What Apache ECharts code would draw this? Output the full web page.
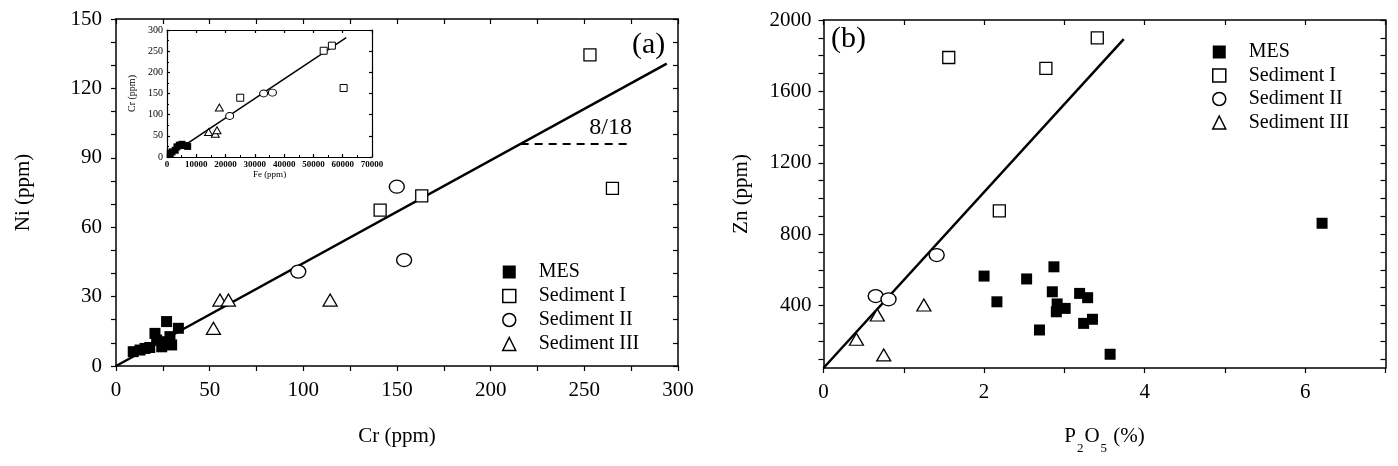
<!DOCTYPE html>
<html>
<head>
<meta charset="utf-8">
<script src="https://cdn.jsdelivr.net/npm/echarts@6/dist/echarts.min.js"></script>
<style>
  html, body { margin: 0; padding: 0; background: #fff; }
  #main { width: 1398px; height: 466px; }
</style>
</head>
<body>
<div id="main"></div>
<script>
// panel (a): Ni vs Cr
const mesA = [[9.2, 6.2], [12.8, 6.9], [15.5, 7.6], [18, 8], [20.8, 14.1], [21.7, 11.2], [24.4, 8.3],
  [25.5, 10.5], [27, 19.2], [28.8, 12.7], [29.7, 9.1], [33.3, 16.3]]
const sed1A = [[141, 67.4], [163.2, 73.5], [253, 134.5], [265, 76.8]]
const sed2A = [[97.3, 40.8], [149.9, 77.5], [153.8, 45.8]]
const sed3A = [[52, 16.3], [55.5, 28.5], [60, 28.5], [114.3, 28.5]]
const fitA = [[0, 0], [294, 130.7]]
const refA = [[216, 96], [274, 96]]

// inset: Cr vs Fe
const mesFe = [[1100, 8], [1700, 12], [2800, 16], [3400, 24], [4200, 28], [5100, 30], [6000, 27], [7060, 25]]
const sed1Fe = [[25000, 140], [53500, 251], [56300, 263], [60300, 163]]
const sed2Fe = [[21400, 97], [33000, 150], [36000, 152]]
const sed3Fe = [[14200, 59], [16500, 55], [17070, 63], [17870, 117]]
const fitFe = [[2000, 9], [61200, 282]]

// panel (b): Zn vs P2O5
const mesB = [[2.0, 565], [2.16, 421], [2.53, 549], [2.87, 617], [2.85, 477], [2.91, 409], [2.9, 365],
  [3.01, 384], [2.69, 263], [3.19, 468], [3.29, 444], [3.24, 300], [3.35, 323], [3.57, 127], [6.21, 861]]
const sed1B = [[1.56, 1790], [2.19, 931], [2.77, 1729], [3.41, 1900]]
const sed2B = [[0.65, 453], [0.81, 435], [1.41, 683]]
const sed3B = [[0.41, 211], [0.67, 347], [0.75, 123], [1.25, 403]]
const fitB = [[0, 50], [3.74, 1893]]

const yLabelsB = [400, 800, 1200, 1600, 2000]
const yTicksB = [100, 200, 300, 400, 500, 600, 700, 800, 900, 1000, 1100, 1200, 1300, 1400, 1500,
  1600, 1700, 1800, 1900, 2000]

const font = 'Liberation Serif'

const chart = echarts.init(document.getElementById('main'), null, { renderer: 'canvas' })

const plain = v => String(v)
const line = { show: true, onZero: false, lineStyle: { color: '#000', width: 1.2 } }
const tick = (inside, len) => ({ show: true, inside: inside, length: len, lineStyle: { color: '#000', width: 1.2 } })
const label = (size, margin) => ({ color: '#000', fontFamily: font, fontSize: size, margin: margin, formatter: plain })

function ax(opts) {
  return Object.assign({
    type: 'value',
    axisLine: { show: true, onZero: false, lineStyle: { color: '#000', width: 1.5 } },
    splitLine: { show: false },
    axisLabel: { show: false },
    axisTick: tick(true, 5),
    nameTextStyle: { color: '#000', fontFamily: font, fontSize: 21 },
    nameLocation: 'middle'
  }, opts)
}

const empty = { color: '#fff', borderColor: '#000', borderWidth: 1.3, opacity: 1 }
const filled = { color: '#000', opacity: 1 }
const thin = Object.assign({}, empty, { borderWidth: 1 })

function scatter(name, data, xi, yi, symbol, size, style) {
  return {
    name: name, type: 'scatter', data: data, xAxisIndex: xi, yAxisIndex: yi,
    symbol: symbol, symbolSize: size, itemStyle: style, z: 3, silent: true
  }
}
function fit(data, xi, yi, width, type) {
  return {
    type: 'line', data: data, xAxisIndex: xi, yAxisIndex: yi, symbol: 'none', silent: true,
    lineStyle: { color: '#000', width: width, type: type || 'solid' }, z: 2
  }
}

function legend(left, top, gap) {
  const open = Object.assign({}, empty, { borderWidth: 1.5 })
  return {
    orient: 'vertical', left: left, top: top, itemWidth: 13, itemHeight: 13, itemGap: gap,
    selectedMode: false,
    data: [
      { name: 'MES', icon: 'rect', itemStyle: filled },
      { name: 'Sediment I', icon: 'rect', itemStyle: open },
      { name: 'Sediment II', icon: 'circle', itemStyle: open },
      { name: 'Sediment III', icon: 'triangle', itemStyle: open }
    ],
    textStyle: { color: '#000', fontFamily: font, fontSize: 20, lineHeight: 20, padding: [0, 0, 0, 18] }
  }
}

const option = {
  animation: false,
  backgroundColor: '#fff',
  grid: [
    { left: 116, top: 19, width: 562, height: 347 },
    { left: 167, top: 30, width: 205, height: 127 },
    { left: 823.5, top: 20, width: 562, height: 348 }
  ],
  xAxis: [
    ax({ gridIndex: 0, min: 0, max: 300, interval: 50, axisLabel: label(21, 14), axisTick: tick(false, 5),
      minorTick: { show: true, splitNumber: 2, length: 5, lineStyle: { color: '#000', width: 1.2 } },
      name: 'Cr (ppm)', nameGap: 60 }),
    ax({ gridIndex: 0, position: 'top', min: 0, max: 300, interval: 25 }),
    ax({ gridIndex: 1, min: 0, max: 70000, interval: 10000, axisLine: line, axisTick: tick(true, 3),
      minorTick: { show: true, splitNumber: 2, length: 2, lineStyle: { color: '#000' } },
      axisLabel: { color: '#000', fontFamily: font, fontSize: 9, fontWeight: 'bold', margin: 3, formatter: plain },
      name: 'Fe (ppm)', nameGap: 13, nameTextStyle: { color: '#000', fontFamily: font, fontSize: 9 } }),
    ax({ gridIndex: 1, position: 'top', min: 0, max: 70000, interval: 10000, axisLine: line, axisTick: tick(true, 3) }),
    ax({ gridIndex: 2, min: 0, max: 7, interval: 1, axisTick: tick(false, 5),
      axisLabel: Object.assign(label(21, 14), { formatter: v => (v % 2 ? '' : String(v)) }),
      name: '{a|P}{s|2}{a|O}{s|5}{a| (%)}', nameGap: 58,
      nameTextStyle: { color: '#000', fontFamily: font, fontSize: 21,
        rich: {
          a: { fontFamily: font, fontSize: 21, color: '#000', verticalAlign: 'bottom' },
          s: { fontFamily: font, fontSize: 13, color: '#000', verticalAlign: 'bottom', padding: [0, 1, -8, 1] }
        } } }),
    ax({ gridIndex: 2, position: 'top', min: 0, max: 7, interval: 1 })
  ],
  yAxis: [
    ax({ gridIndex: 0, min: 0, max: 150, interval: 30, axisLabel: label(21, 14), axisTick: tick(false, 5),
      minorTick: { show: true, splitNumber: 3, length: 5, lineStyle: { color: '#000', width: 1.2 } },
      name: 'Ni (ppm)', nameGap: 82 }),
    ax({ gridIndex: 0, position: 'right', min: 0, max: 150, interval: 10 }),
    ax({ gridIndex: 1, min: 0, max: 300, interval: 50, axisLine: line, axisTick: tick(true, 3),
      minorTick: { show: true, splitNumber: 2, length: 2, lineStyle: { color: '#000' } },
      axisLabel: { color: '#000', fontFamily: font, fontSize: 10, margin: 4, formatter: plain },
      name: 'Cr (ppm)', nameGap: 30, nameTextStyle: { color: '#000', fontFamily: font, fontSize: 10 } }),
    ax({ gridIndex: 1, position: 'right', min: 0, max: 300, interval: 50, axisLine: line, axisTick: tick(true, 3) }),
    ax({ gridIndex: 2, min: 50, max: 2000,
      axisLabel: Object.assign(label(21, 12), { customValues: yLabelsB }),
      axisTick: Object.assign(tick(false, 5), { customValues: yTicksB }),
      name: 'Zn (ppm)', nameGap: 72 }),
    ax({ gridIndex: 2, position: 'right', min: 50, max: 2000,
      axisTick: Object.assign(tick(true, 5), { customValues: yTicksB }) })
  ],
  legend: [legend(497, 257, 4), legend(1207, 37, 3.5)],
  graphic: [
    { type: 'text', left: 632, top: 30, style: { text: '(a)', fontFamily: font, fontSize: 30, fill: '#000' } },
    { type: 'text', left: 831, top: 24, style: { text: '(b)', fontFamily: font, fontSize: 30, fill: '#000' } }
  ],
  series: [
    fit(fitA, 0, 0, 2.5),
    Object.assign(fit(refA, 0, 0, 2, [8, 6]), {
      markPoint: { symbolSize: 0, silent: true, data: [{ coord: [264, 103] }],
        label: { show: true, position: 'inside', formatter: '8/18', color: '#000', fontFamily: font, fontSize: 24 } }
    }),
    scatter('MES', mesA, 0, 0, 'rect', 11, filled),
    scatter('Sediment I', sed1A, 0, 0, 'rect', 12, empty),
    scatter('Sediment II', sed2A, 0, 0, 'circle', [15, 13], empty),
    scatter('Sediment III', sed3A, 0, 0, 'triangle', [14, 12], empty),

    fit(fitFe, 2, 2, 1.5),
    scatter('MES', mesFe, 2, 2, 'rect', 7, filled),
    scatter('Sediment I', sed1Fe, 2, 2, 'rect', 7, thin),
    scatter('Sediment II', sed2Fe, 2, 2, 'circle', [8, 7], thin),
    scatter('Sediment III', sed3Fe, 2, 2, 'triangle', [8, 7], thin),

    fit(fitB, 4, 4, 2.5),
    scatter('MES', mesB, 4, 4, 'rect', 11, filled),
    scatter('Sediment I', sed1B, 4, 4, 'rect', 12, empty),
    scatter('Sediment II', sed2B, 4, 4, 'circle', [15, 13], empty),
    scatter('Sediment III', sed3B, 4, 4, 'triangle', [14, 12], empty)
  ]
}

chart.setOption(option)
</script>
</body>
</html>
